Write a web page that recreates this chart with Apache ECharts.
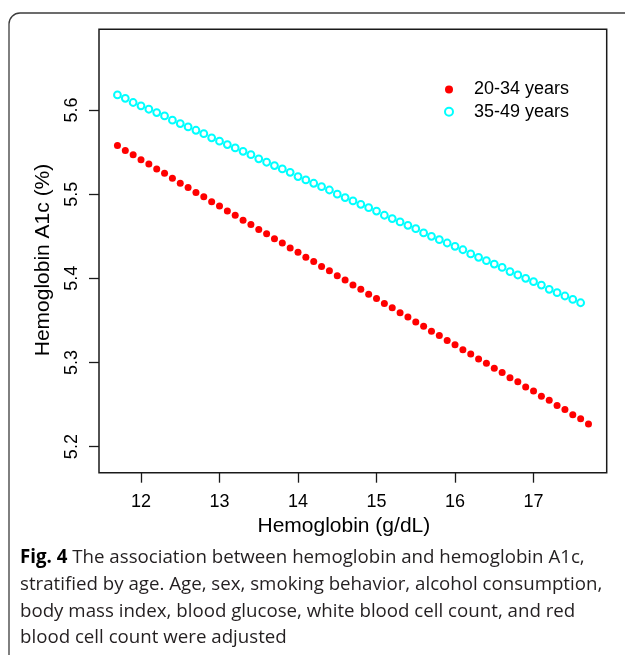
<!DOCTYPE html>
<html>
<head>
<meta charset="utf-8">
<script src="https://cdn.jsdelivr.net/npm/echarts@6/dist/echarts.min.js"></script>
<style>
html,body{margin:0;padding:0;background:#fff;}
#chart{width:625px;height:655px;}
</style>
</head>
<body>
<div id="chart"></div>
<script>
// ---- data ----
var hemoglobin = [11.7,11.8,11.9,12.0,12.1,12.2,12.3,12.4,12.5,12.6,
  12.7,12.8,12.9,13.0,13.1,13.2,13.3,13.4,13.5,13.6,
  13.7,13.8,13.9,14.0,14.1,14.2,14.3,14.4,14.5,14.6,
  14.7,14.8,14.9,15.0,15.1,15.2,15.3,15.4,15.5,15.6,
  15.7,15.8,15.9,16.0,16.1,16.2,16.3,16.4,16.5,16.6,
  16.7,16.8,16.9,17.0,17.1,17.2,17.3,17.4,17.5,17.6,
  17.7];
var hba1c_20_34 = [5.558,5.552,5.547,5.541,5.536,5.530,5.525,5.519,5.513,5.508,
  5.502,5.497,5.491,5.486,5.480,5.475,5.469,5.464,5.458,5.453,
  5.447,5.442,5.436,5.431,5.425,5.420,5.414,5.409,5.403,5.398,
  5.392,5.387,5.381,5.376,5.370,5.365,5.359,5.354,5.348,5.343,
  5.337,5.332,5.326,5.321,5.315,5.310,5.304,5.299,5.293,5.288,
  5.282,5.277,5.271,5.266,5.260,5.255,5.249,5.244,5.238,5.233,
  5.227];
var hba1c_35_49 = [5.618,5.614,5.609,5.605,5.601,5.597,5.593,5.588,5.584,5.580,
  5.576,5.572,5.567,5.563,5.559,5.555,5.551,5.547,5.542,5.538,
  5.534,5.530,5.526,5.521,5.517,5.513,5.509,5.505,5.500,5.496,
  5.492,5.488,5.484,5.480,5.475,5.471,5.467,5.463,5.459,5.454,
  5.450,5.446,5.442,5.438,5.434,5.429,5.425,5.421,5.417,5.413,
  5.408,5.404,5.400,5.396,5.392,5.387,5.383,5.379,5.375,5.371];
var seriesNames = ['20-34 years', '35-49 years'];
var xTicks = [12, 13, 14, 15, 16, 17];
var yTicks = [5.2, 5.3, 5.4, 5.5, 5.6];
var xTitle = 'Hemoglobin (g/dL)';
var yTitle = 'Hemoglobin A1c (%)';
var captionBold = 'Fig. 4';
var captionLines = [
  ' The association between hemoglobin and hemoglobin A1c,',
  'stratified by age. Age, sex, smoking behavior, alcohol consumption,',
  'body mass index, blood glucose, white blood cell count, and red',
  'blood cell count were adjusted'
];

function pairs(xs, ys) {
  var out = [];
  for (var i = 0; i < ys.length; i++) out.push([xs[i], ys[i]]);
  return out;
}

// fit caption font size to the reference line width
var capFont = 'Open Sans';
var mc = document.createElement('canvas').getContext('2d');
mc.font = 'bold 100px "' + capFont + '"';
var wb = mc.measureText(captionBold).width;
mc.font = '100px "' + capFont + '"';
var wr = mc.measureText(captionLines[0]).width;
var capSize = Math.round(100 * 566 / (wb + wr) * 10) / 10;

var chart = echarts.init(document.getElementById('chart'), null, {renderer: 'canvas'});
var axisFont = 'Liberation Sans';
var ink = '#1a1a1a';

var option = {
  backgroundColor: '#ffffff',
  animation: false,
  grid: {
    left: 99, right: 18.3, top: 29.3, bottom: 182.3,
    show: true, borderColor: ink, borderWidth: 1.5, backgroundColor: 'transparent'
  },
  legend: {
    orient: 'vertical',
    left: 444, top: 80.5, padding: 0,
    itemWidth: 8, itemHeight: 8, itemGap: 4.3,
    data: seriesNames,
    textStyle: {fontFamily: axisFont, fontSize: 18, color: '#000', padding: [0, 0, 0, 16], lineHeight: 18}
  },
  xAxis: {
    type: 'value', min: 11.465, max: 17.932,
    name: xTitle, nameLocation: 'middle', nameGap: 39,
    nameTextStyle: {fontFamily: axisFont, fontSize: 21, color: '#000', padding: [0, 18, 0, 0]},
    axisLine: {show: false},
    splitLine: {show: false},
    axisTick: {show: true, customValues: xTicks, length: 10, lineStyle: {color: ink, width: 1.3}},
    axisLabel: {customValues: xTicks, margin: 20, fontFamily: axisFont, fontSize: 18, color: '#000'}
  },
  yAxis: {
    type: 'value', min: 5.169, max: 5.696,
    name: yTitle, nameLocation: 'middle', nameGap: 45,
    nameTextStyle: {fontFamily: axisFont, fontSize: 21, color: '#000', padding: [0, 18, 0, 0]},
    axisLine: {show: false},
    splitLine: {show: false},
    axisTick: {show: true, customValues: yTicks, length: 10, lineStyle: {color: ink, width: 1.3}},
    axisLabel: {customValues: yTicks, rotate: 90, margin: 18, fontFamily: axisFont, fontSize: 18, color: '#000',
      formatter: function (v) { return v.toFixed(1); }}
  },
  series: [
    {
      name: seriesNames[0], type: 'scatter', symbol: 'circle', symbolSize: 7,
      itemStyle: {color: '#ff0000', opacity: 1},
      emphasis: {disabled: true},
      data: pairs(hemoglobin, hba1c_20_34), z: 3
    },
    {
      name: seriesNames[1], type: 'scatter', symbol: 'emptyCircle', symbolSize: 6.8,
      itemStyle: {color: '#00ffff', borderColor: '#00ffff', borderWidth: 1.6, opacity: 1},
      emphasis: {disabled: true},
      data: pairs(hemoglobin, hba1c_35_49), z: 3
    }
  ],
  graphic: [
    {
      type: 'rect', silent: true, z: -1,
      shape: {x: 9, y: 13, width: 900, height: 900, r: [11, 0, 0, 0]},
      style: {fill: 'none', stroke: '#3c3c3c', lineWidth: 1.3}
    },
    {
      type: 'text', left: 20, top: 544.5,
      style: {
        text: '{b|' + captionBold + '}' + captionLines[0] + '\n' + captionLines.slice(1).join('\n'),
        fontFamily: capFont, fontSize: capSize, lineHeight: 26.7, fill: '#231f20',
        rich: {b: {fontFamily: capFont, fontSize: capSize, fontWeight: 'bold', fill: '#000', lineHeight: 26.7}}
      }
    }
  ]
};
chart.setOption(option);
</script>
</body>
</html>
